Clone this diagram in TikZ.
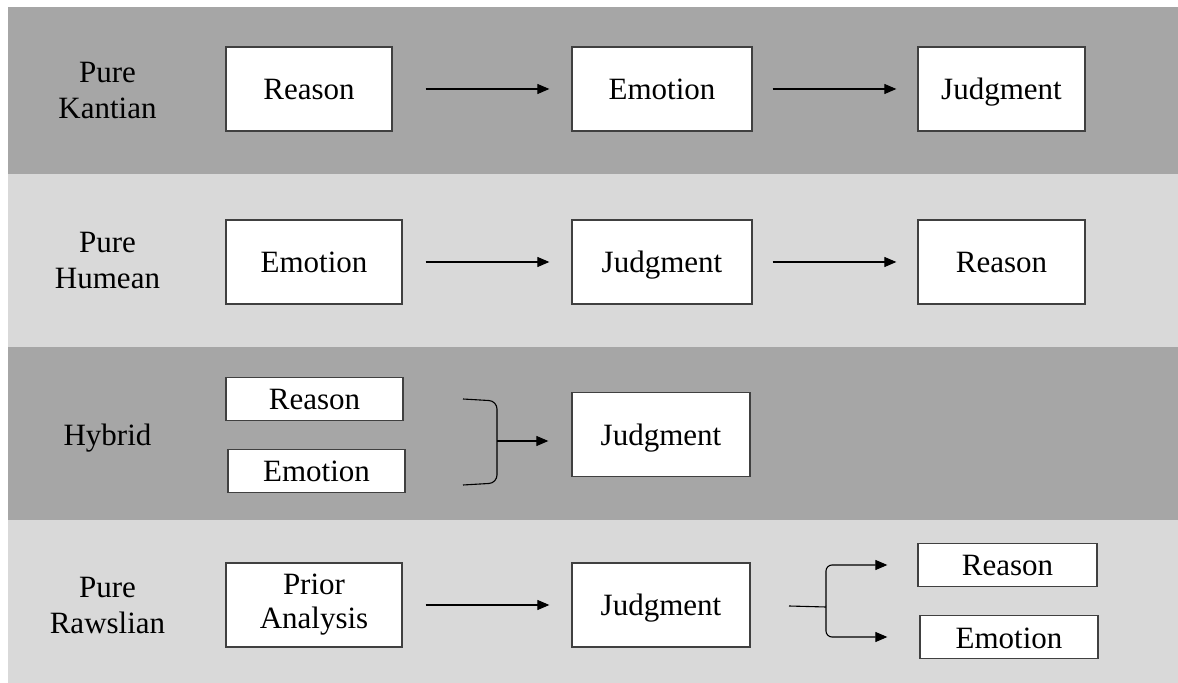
\documentclass[tikz,border=0pt]{standalone}
\usepackage{fontspec}
\setmainfont{Liberation Serif}
\usetikzlibrary{arrows.meta}
\definecolor{bandDark}{HTML}{A6A6A6}
\definecolor{bandLight}{HTML}{D9D9D9}
\definecolor{boxLine}{HTML}{404040}

\begin{document}
\begin{tikzpicture}[x=0.5pt,y=-0.5pt,font=\fontsize{15.5}{18}\selectfont,
  box/.style={draw=boxLine,fill=white,line width=0.65pt,inner sep=0pt,align=center,minimum height=42pt,
    text height=14pt,text depth=3pt},
  thin/.style={box,minimum height=21.5pt},
  flow/.style={-{Triangle[length=6pt,width=5pt]},line width=0.55pt},
  lab/.style={align=center}]
  \useasboundingbox (0,0) rectangle (1178,683);
  % bandes
  \fill[bandDark]  (8,7)   rectangle (1178,174);
  \fill[bandLight] (8,174) rectangle (1178,347);
  \fill[bandDark]  (8,347) rectangle (1178,520);
  \fill[bandLight] (8,520) rectangle (1178,683);
  % Pure Kantian
  \node[lab] (kant) at (107.5,90.5) {Pure\\Kantian};
  \node[box,minimum width=83pt] (kR) at (309,89) {Reason};
  \node[box,minimum width=90pt] (kE) at (662,89) {Emotion};
  \node[box,minimum width=83.5pt] (kJ) at (1001.5,89) {Judgment};
  \draw[flow] ([xshift=16.5pt]kR.east) -- ([xshift=-11pt]kE.west);
  \draw[flow] ([xshift=10pt]kE.east) -- ([xshift=-10.5pt]kJ.west);
  % Pure Humean
  \node[lab] (hume) at (107.5,261) {Pure\\Humean};
  \node[box,minimum width=88pt] (hE) at (314,262) {Emotion};
  \node[box,minimum width=90pt] (hJ) at (662,262) {Judgment};
  \node[box,minimum width=83.5pt] (hR) at (1001.5,262) {Reason};
  \draw[flow] ([xshift=11.5pt]hE.east) -- ([xshift=-11pt]hJ.west);
  \draw[flow] ([xshift=10pt]hJ.east) -- ([xshift=-10.5pt]hR.west);
  % Hybrid
  \node[lab,text height=14pt,text depth=3pt] (hyb) at (107.5,434.5) {Hybrid};
  \node[thin,minimum width=88.5pt] (yR) at (314.5,399) {Reason};
  \node[thin,minimum width=88.5pt] (yE) at (316.5,471) {Emotion};
  \node[box,minimum width=89pt] (yJ) at (661,434.5) {Judgment};
  \coordinate (yb) at (497,441);
  \draw[line width=0.55pt,rounded corners=4pt] (463,399) -- (497,401) -- (497,483) -- (463,485);
  \draw[flow] (yb) -- ([xshift=-11.5pt]yJ.west |- yb);
  % Pure Rawslian
  \node[lab] (rawl) at (107.5,606) {Pure\\Rawslian};
  \node[box,minimum width=88pt,text height={},text depth={},font=\fontsize{15.5}{17}\selectfont] (rP) at (314,605) {Prior\\Analysis};
  \node[box,minimum width=89pt] (rJ) at (661,605) {Judgment};
  \node[thin,minimum width=89.5pt] (rR) at (1007.5,565) {Reason};
  \node[thin,minimum width=89pt] (rE) at (1009,637) {Emotion};
  \draw[flow] ([xshift=11.5pt]rP.east) -- ([xshift=-11pt]rJ.west);
  \coordinate (rs) at (789,606);
  \coordinate (rf) at (826,607);
  \draw[line width=0.55pt] (rs) -- (rf);
  \draw[flow,rounded corners=3pt] (826,606) |- ([xshift=-15pt]rR.west);
  \draw[flow,rounded corners=3pt] (826,606) |- ([xshift=-16pt]rE.west);
\end{tikzpicture}
\end{document}
